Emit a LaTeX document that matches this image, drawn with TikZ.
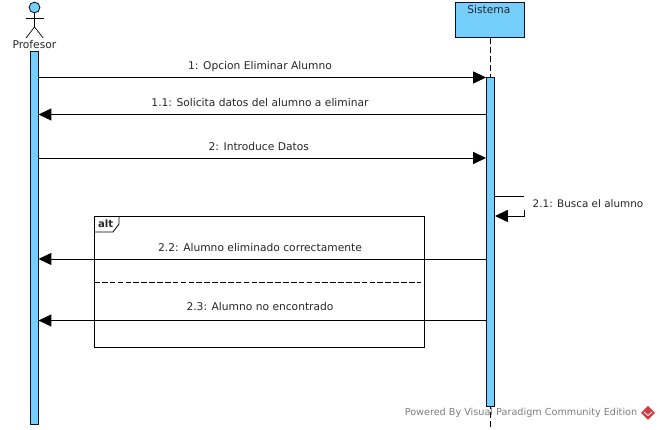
\documentclass[tikz,border=0pt]{standalone}
\usepackage{fontspec}
\setmainfont{DejaVu Sans}
\usetikzlibrary{arrows.meta}
\definecolor{barblue}{RGB}{118,207,250}
\definecolor{linedark}{RGB}{5,15,35}
\definecolor{footergray}{RGB}{125,125,125}
\definecolor{logored}{RGB}{205,60,65}
\tikzset{
  bar/.style={draw=linedark,fill=barblue,line width=0.7pt,inner sep=0pt,minimum width=0.19cm},
  msg/.style={draw=black,line width=0.6pt,-{Triangle[length=0.32cm,width=0.3cm]}},
  msgline/.style={draw=black,line width=0.6pt},
  msgtext/.style={font=\fontsize{7.6}{9}\selectfont,inner sep=0pt,text=black!85},
  frameline/.style={draw=black,line width=0.6pt}
}
\begin{document}
\begin{tikzpicture}
  \useasboundingbox (0,0) rectangle (16.5,10.75);
  %
  \node (altFrame) [frameline,inner sep=0pt,minimum width=8.25cm,minimum height=3.275cm] at (6.4875,3.7) {};
  \coordinate (tabTop) at (2.975,5.3375);
  \coordinate (tabBottom) at (2.3625,4.95);
  \coordinate (dividerEnd) at (10.53,3.7);
  \draw[frameline] (tabTop) -- (2.975,5.15) -- (2.825,4.95) -- (tabBottom);
  \node (altLabel) [msgtext,font=\fontsize{7.2}{9}\selectfont\bfseries] at (2.64,5.15) {alt};
  \draw[frameline,dash pattern=on 4pt off 1.6pt] (altFrame.west) -- (dividerEnd);
  %
  \node (head) [circle,draw=linedark,fill=barblue,line width=0.6pt,inner sep=0pt,minimum size=0.27cm] at (0.8625,10.5625) {};
  \coordinate (hip) at (0.8625,10.075);
  \draw[line width=0.5pt] (head.south) -- (hip);
  \draw[line width=0.5pt] (0.65,10.3) -- (1.1,10.3);
  \draw[line width=0.5pt] (0.65,9.8) -- (hip) -- (1.08,9.8);
  \node (profesor) [msgtext] at (0.86,9.64) {Profesor};
  \node (barProfesor) [bar,minimum height=9.325cm] at (0.856,4.7875) {};
  %
  \node (sistema) [bar,minimum width=1.725cm,minimum height=0.8625cm] at (12.2375,10.256) {};
  \node (sistemaLabel) [msgtext] at (12.22,10.5) {Sistema};
  \coordinate (lifeEnd) at (12.25,0.075);
  \draw[line width=0.6pt,dash pattern=on 4.5pt off 2pt] (sistema.south -| lifeEnd) -- (lifeEnd);
  \node (barSistema) [bar,minimum width=0.2cm,minimum height=8.2125cm] at (12.2625,4.706) {};
  %
  \foreach \n/\y in {a/8.8125,b/7.8875,c/6.8,e/4.275,f/2.7375} {
    \coordinate (p\n) at (barProfesor.east |- 0,\y);
    \coordinate (s\n) at (barSistema.west |- 0,\y);
  }
  \draw[msg] (pa) -- (sa);
  \node (msgA) [msgtext] at (6.5,9.09) {1: Opcion Eliminar Alumno};
  \draw[msg] (sb) -- (pb);
  \node (msgB) [msgtext] at (6.5,8.195) {1.1: Solicita datos del alumno a eliminar};
  \draw[msg] (pc) -- (sc);
  \node (msgC) [msgtext] at (6.47,7.095) {2: Introduce Datos};
  %
  \coordinate (selfOut) at (barSistema.east |- 0,5.85);
  \coordinate (selfIn) at (barSistema.east |- 0,5.35);
  \draw[msgline] (selfOut) -- (13.1,5.85);
  \draw[msg] (13.1,5.5) -- (13.1,5.35) -- (selfIn);
  \node (msgD) [msgtext,font=\fontsize{7.4}{9}\selectfont] at (14.7,5.67) {2.1: Busca el alumno};
  %
  \draw[msg] (se) -- (pe);
  \node (msgE) [msgtext] at (6.5,4.565) {2.2: Alumno eliminado correctamente};
  \draw[msg] (sf) -- (pf);
  \node (msgF) [msgtext] at (6.5,3.095) {2.3: Alumno no encontrado};
  %
  \node (footer) [msgtext,font=\fontsize{6.87}{9}\selectfont,text=footergray] at (13.025,0.425) {Powered By Visual Paradigm Community Edition};
  \fill[logored] (16.2,0.25) -- (16.375,0.425) -- (16.2,0.6) -- (16.025,0.425) -- cycle;
  \draw[white,line width=0.6pt] (16.1,0.45) -- (16.2,0.36) -- (16.3,0.45);
  %
\end{tikzpicture}
\end{document}
